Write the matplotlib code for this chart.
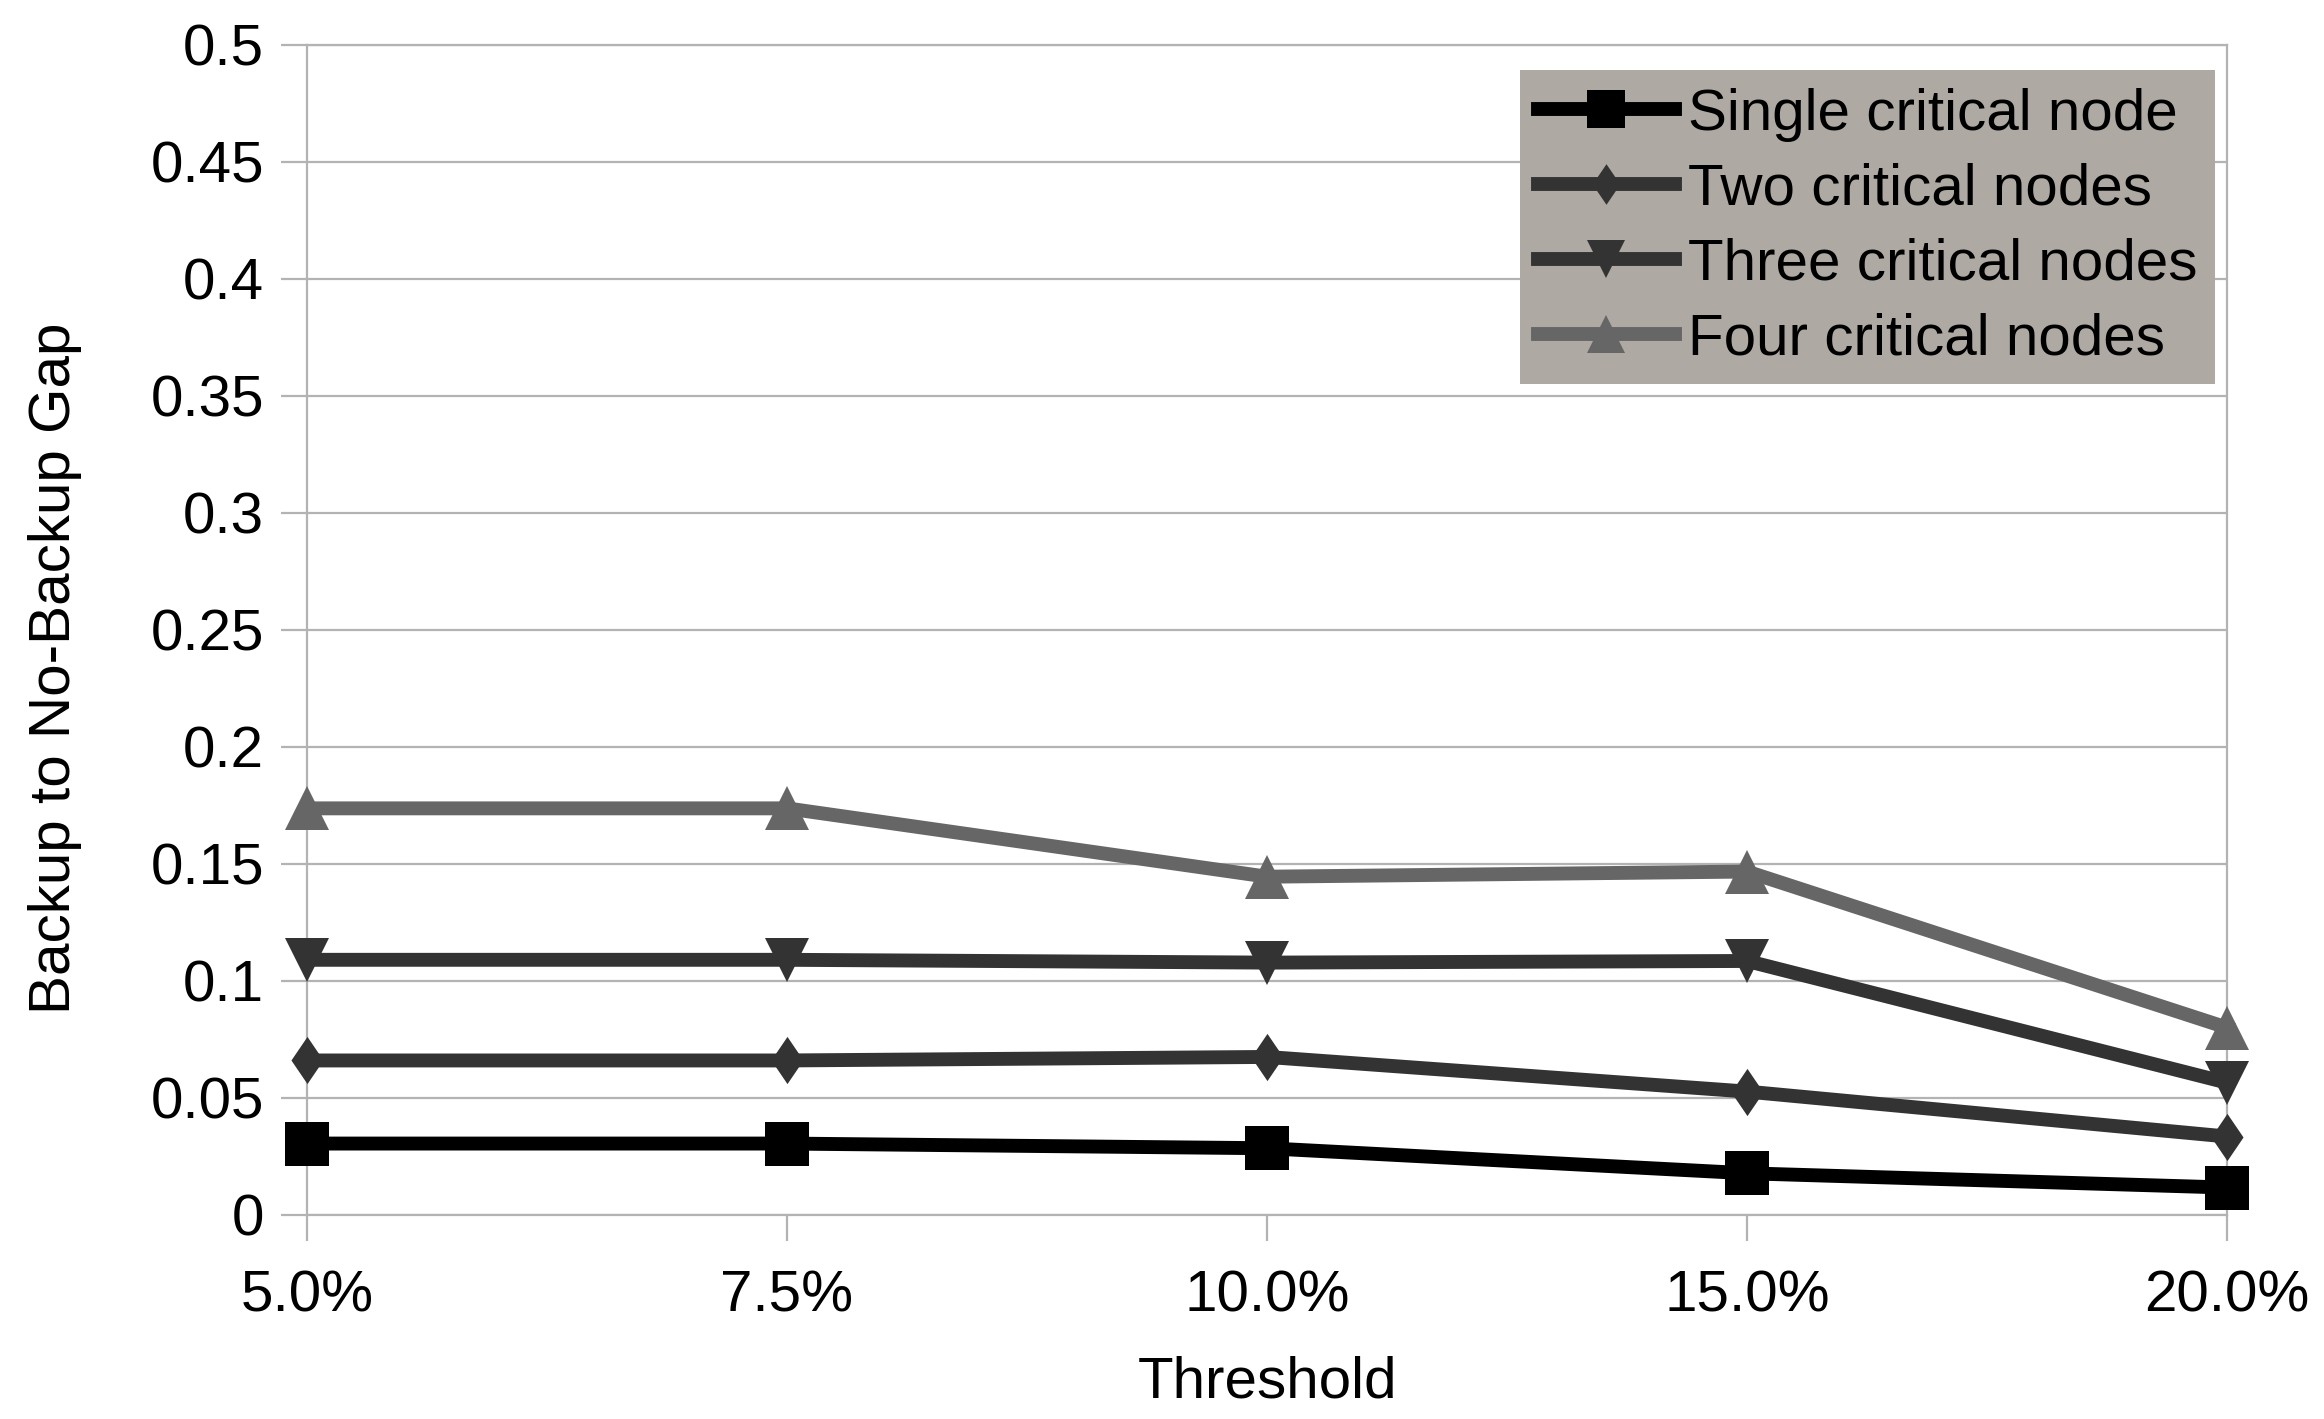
import matplotlib
matplotlib.use("Agg")
import matplotlib.pyplot as plt

# Data
thresholds = ["5.0%", "7.5%", "10.0%", "15.0%", "20.0%"]
single_node = [0.0305, 0.0305, 0.0285, 0.0178, 0.0117]
two_nodes = [0.066, 0.066, 0.0675, 0.0527, 0.0335]
three_nodes = [0.109, 0.109, 0.1078, 0.1085, 0.0565]
four_nodes = [0.1737, 0.1737, 0.1445, 0.1467, 0.0800]
series_labels = ["Single critical node", "Two critical nodes",
                 "Three critical nodes", "Four critical nodes"]
y_ticks = [0, 0.05, 0.1, 0.15, 0.2, 0.25, 0.3, 0.35, 0.4, 0.45, 0.5]
y_tick_labels = ["0", "0.05", "0.1", "0.15", "0.2", "0.25", "0.3", "0.35",
                 "0.4", "0.45", "0.5"]

plt.rcParams["font.family"] = ["Liberation Sans", "DejaVu Sans"]

# Config Figure
font_size = 42
grid_color = "#b3b3b3"
line_width = 10
marker_size = 31

diamond = [(0, 1), (0.68, 0), (0, -1), (-0.68, 0), (0, 1)]

fig = plt.figure(figsize=(23.24, 14.19), dpi=100)
ax = fig.add_axes([0.1321, 0.1438, 0.8262, 0.8248])

x = list(range(len(thresholds)))
styles = [
    (single_node, "#000000", "s", marker_size),
    (two_nodes, "#333333", diamond, marker_size + 3),
    (three_nodes, "#333333", "v", marker_size),
    (four_nodes, "#666666", "^", marker_size),
]
for (values, color, marker, msize), label in zip(styles, series_labels):
    ax.plot(x, values, color=color, linewidth=line_width, marker=marker,
            markersize=msize, markeredgewidth=0, label=label,
            solid_joinstyle="miter", clip_on=False, zorder=3)

ax.set_xlim(0, len(thresholds) - 1)
ax.set_ylim(0, 0.5)
ax.set_xticks(x)
ax.set_xticklabels(thresholds)
ax.set_yticks(y_ticks)
ax.set_yticklabels(y_tick_labels)

ax.grid(axis="y", color=grid_color, linewidth=1.6, zorder=0)
for side in ["left", "right", "top", "bottom"]:
    ax.spines[side].set_color(grid_color)
    ax.spines[side].set_linewidth(1.6)
ax.tick_params(axis="both", direction="out", length=19, width=1.6,
               color=grid_color, labelsize=font_size)
ax.tick_params(axis="y", pad=12)
ax.tick_params(axis="x", pad=20)

ax.set_xlabel("Threshold", fontsize=font_size, va="center")
ax.xaxis.set_label_coords(0.5, -0.1435)
ax.set_ylabel("Backup to No-Backup Gap", fontsize=font_size, va="center")
ax.yaxis.set_label_coords(-0.131, 0.467)

leg = ax.legend(loc="upper right", bbox_to_anchor=(0.9935, 0.978),
                borderaxespad=0, fontsize=font_size, frameon=True,
                facecolor="#afa9a3", edgecolor="none", framealpha=1,
                fancybox=False, handlelength=2.35, handletextpad=0.22,
                borderpad=0.3, labelspacing=0.36, markerscale=0.86)
leg.set_zorder(5)

fig.savefig("out.png", dpi=100)
plt.close(fig)
